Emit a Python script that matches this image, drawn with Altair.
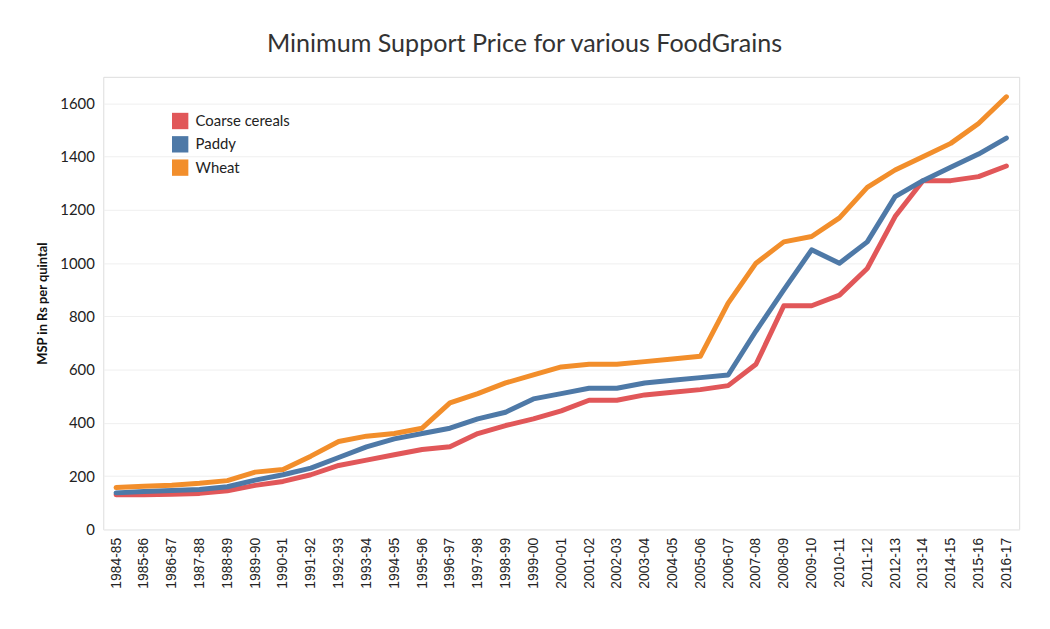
import altair as alt
import pandas as pd

years = ["1984-85","1985-86","1986-87","1987-88","1988-89","1989-90","1990-91","1991-92",
         "1992-93","1993-94","1994-95","1995-96","1996-97","1997-98","1998-99","1999-00",
         "2000-01","2001-02","2002-03","2003-04","2004-05","2005-06","2006-07","2007-08",
         "2008-09","2009-10","2010-11","2011-12","2012-13","2013-14","2014-15","2015-16","2016-17"]

coarse_cereals = [130,130,132,135,145,165,180,205,240,260,280,300,310,360,390,415,
                  445,485,485,505,515,525,540,620,840,840,880,980,1175,1310,1310,1325,1365]
paddy = [137,142,146,150,160,185,205,230,270,310,340,360,380,415,440,490,
         510,530,530,550,560,570,580,745,900,1050,1000,1080,1250,1310,1360,1410,1470]
wheat = [157,162,166,173,183,215,225,275,330,350,360,380,475,510,550,580,
         610,620,620,630,640,650,850,1000,1080,1100,1170,1285,1350,1400,1450,1525,1625]

series_names = ["Coarse cereals", "Paddy", "Wheat"]
series_colors = ["#e15759", "#4e79a7", "#f28e2b"]
y_ticks = [0, 200, 400, 600, 800, 1000, 1200, 1400, 1600]

rows = []
for name, vals in zip(series_names, [coarse_cereals, paddy, wheat]):
    for yr, v in zip(years, vals):
        rows.append({"Year": yr, "Crop": name, "MSP": v})
df = pd.DataFrame(rows)

x_enc = alt.X("Year:N", sort=years,
              scale=alt.Scale(type="point", padding=0.46),
              axis=alt.Axis(title=None, labelAngle=-90, labelFont="Liberation Sans",
                            labelFontSize=14, labelColor="#222", labelPadding=8,
                            ticks=False, domain=False, grid=False, labelBaseline="middle",
                            labelAlign="right"))
y_enc = alt.Y("MSP:Q", scale=alt.Scale(domain=[0, 1700], nice=False),
              axis=alt.Axis(title="MSP in Rs per quintal", values=y_ticks, format="d",
                            titleFont="Lato", titleFontSize=13, titleFontWeight="bold",
                            titleColor="#111", titlePadding=10,
                            labelFont="Lato", labelFontSize=15, labelColor="#222",
                            labelPadding=9, ticks=False, domain=False,
                            grid=True, gridColor="#efefef", gridWidth=1))

base = alt.Chart(df)

legend_layer = base.mark_square(size=1, opacity=1).encode(
    x=x_enc, y=y_enc,
    fill=alt.Fill("Crop:N", scale=alt.Scale(domain=series_names, range=series_colors),
                  legend=alt.Legend(title=None, orient="none", legendX=69, legendY=36,
                                    symbolType="square", symbolSize=272,
                                    symbolStrokeWidth=0, symbolOpacity=1,
                                    labelFont="Lato", labelFontSize=15, labelColor="#222",
                                    rowPadding=6.5, labelOffset=7, padding=0)),
)

lines = base.mark_line(strokeWidth=5, strokeCap="round", strokeJoin="round").encode(
    x=x_enc, y=y_enc,
    color=alt.Color("Crop:N", scale=alt.Scale(domain=series_names, range=series_colors),
                    legend=None),
)

chart = alt.layer(legend_layer, lines).properties(
    width=923, height=456,
    title=alt.TitleParams("Minimum Support Price for various FoodGrains",
                          font="Lato", fontSize=25.3, fontWeight="normal", color="#333",
                          anchor="middle", dx=-37, offset=20),
    autosize=alt.AutoSizeParams(type="none"),
    padding={"left": 96, "top": 67, "right": 23, "bottom": 90},
).configure_view(stroke=None).configure(background="white")

chart.save("out.html", embed_options={"renderer": "svg", "actions": False})
